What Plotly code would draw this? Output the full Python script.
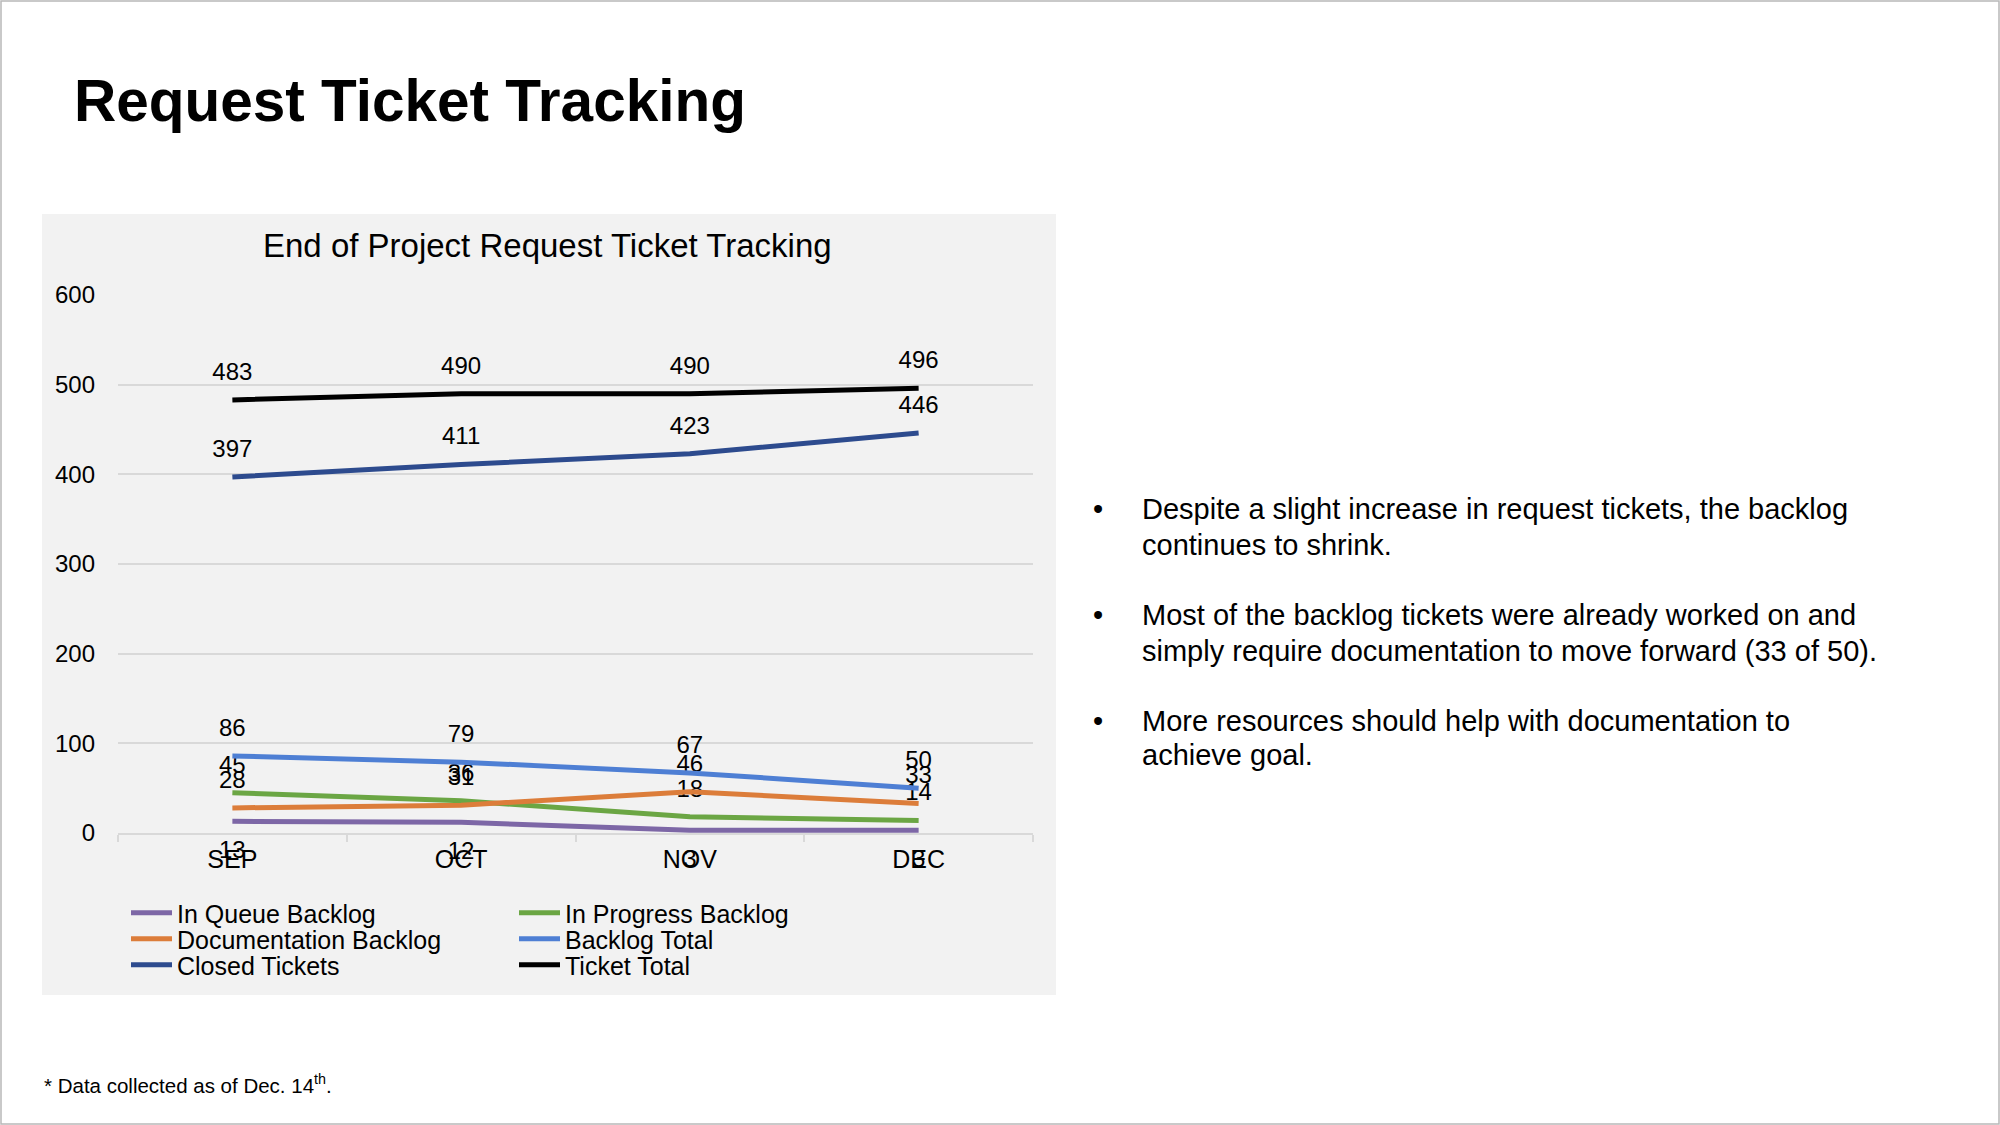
import plotly.graph_objects as go

# ---------------- data ----------------
months = ["SEP", "OCT", "NOV", "DEC"]
in_queue = [13, 12, 3, 3]
in_progress = [45, 36, 18, 14]
documentation = [28, 31, 46, 33]
backlog_total = [86, 79, 67, 50]
closed_tickets = [397, 411, 423, 446]
ticket_total = [483, 490, 490, 496]

y_ticks = [0, 100, 200, 300, 400, 500, 600]

page_title = "Request Ticket Tracking"
chart_title = "End of Project Request Ticket Tracking"
bullet_lines = [
    ["Despite a slight increase in request tickets, the backlog",
     "continues to shrink."],
    ["Most of the backlog tickets were already worked on and",
     "simply require documentation to move forward (33 of 50)."],
    ["More resources should help with documentation to",
     "achieve goal."],
]
footnote = "* Data collected as of Dec. 14<sup>th</sup>."

# ---------------- layout geometry (pixels) ----------------
W, H = 2000, 1125
PL, PR, PT, PB = 118, 1033, 295, 833   # plot area


def px(x):
    return (x - PL) / (PR - PL)


def py(y):
    return (PB - y) / (PB - PT)


FONT = "Liberation Sans, Arial, Helvetica, sans-serif"

series = [
    ("In Queue Backlog", in_queue, "#7d67a6", "bottom center", "legend"),
    ("In Progress Backlog", in_progress, "#6ba644", "top center", "legend"),
    ("Documentation Backlog", documentation, "#dc7d3a", "top center", "legend2"),
    ("Backlog Total", backlog_total, "#4e7fd4", "top center", "legend2"),
    ("Closed Tickets", closed_tickets, "#2d4b8e", "top center", "legend3"),
    ("Ticket Total", ticket_total, "#000000", "top center", "legend3"),
]

fig = go.Figure()
for name, vals, color, tpos, leg in series:
    gap = 29 if tpos.startswith("bottom") else 21
    fig.add_trace(go.Scatter(
        x=months, y=vals, name=name, mode="lines+markers+text",
        text=[str(v) for v in vals], textposition=tpos,
        textfont=dict(family=FONT, size=24, color="#000000"),
        line=dict(color=color, width=5),
        marker=dict(size=gap, color="rgba(0,0,0,0)",
                    line=dict(width=0, color="rgba(0,0,0,0)")),
        cliponaxis=False, legend=leg, hoverinfo="x+y+name",
    ))

legend_common = dict(
    orientation="h", xanchor="left", yanchor="middle",
    font=dict(family=FONT, size=25, color="#000000"),
    bgcolor="rgba(0,0,0,0)", itemwidth=41,
    entrywidth=332, entrywidthmode="pixels",
    itemclick=False, itemdoubleclick=False, tracegroupgap=0,
)

fig.update_layout(
    width=W, height=H,
    margin=dict(l=PL, r=W - PR, t=PT, b=H - PB, pad=0),
    paper_bgcolor="#ffffff",
    plot_bgcolor="rgba(0,0,0,0)",
    font=dict(family=FONT, color="#000000"),
    showlegend=True,
    legend=dict(x=px(126), y=py(913), **legend_common),
    legend2=dict(x=px(126), y=py(939), **legend_common),
    legend3=dict(x=px(126), y=py(965), **legend_common),
    xaxis=dict(
        type="category", categoryorder="array", categoryarray=months,
        range=[-0.5, 3.5], showgrid=False, zeroline=False,
        showline=True, linecolor="#d9d9d9", linewidth=1.5,
        ticks="outside", tickson="boundaries", ticklen=7,
        tickcolor="#d9d9d9", tickwidth=1.5,
        tickfont=dict(family=FONT, size=25, color="#000000"),
        ticklabelstandoff=3, fixedrange=True,
    ),
    yaxis=dict(
        range=[0, 600], tickvals=y_ticks, showgrid=True,
        gridcolor="#d9d9d9", gridwidth=1.5, zeroline=False,
        showline=False, ticks="",
        tickfont=dict(family=FONT, size=24, color="#000000"),
        ticklabelstandoff=22, fixedrange=True,
    ),
    shapes=[
        dict(type="rect", xref="paper", yref="paper",
             x0=px(42), x1=px(1056), y0=py(995), y1=py(214),
             fillcolor="#f2f2f2", line=dict(width=0), layer="below"),
        dict(type="rect", xref="paper", yref="paper",
             x0=px(1), x1=px(1999), y0=py(1124), y1=py(1),
             fillcolor="rgba(0,0,0,0)", line=dict(color="#b8b8b8", width=1.5),
             layer="above"),
    ],
)

annotations = [
    dict(text="<b>" + page_title + "</b>", x=px(72), y=py(100),
         xanchor="left", yanchor="middle",
         font=dict(family=FONT, size=58.5, color="#000000")),
    dict(text=chart_title, x=px(547), y=py(245),
         xanchor="center", yanchor="middle",
         font=dict(family=FONT, size=33, color="#000000")),
    dict(text=footnote, x=px(42), y=py(1084),
         xanchor="left", yanchor="middle",
         font=dict(family=FONT, size=20.5, color="#000000")),
]
line_ys = [[509, 545], [615, 651], [721, 755]]
for lines, ys in zip(bullet_lines, line_ys):
    annotations.append(dict(text="•", x=px(1091), y=py(ys[0]),
                            xanchor="left", yanchor="middle",
                            font=dict(family=FONT, size=29, color="#000000")))
    for txt, yy in zip(lines, ys):
        annotations.append(dict(text=txt, x=px(1140), y=py(yy),
                                xanchor="left", yanchor="middle", align="left",
                                font=dict(family=FONT, size=29, color="#000000")))
for a in annotations:
    a.update(xref="paper", yref="paper", showarrow=False)
fig.update_layout(annotations=annotations)

fig.write_html("out.html", config={"displayModeBar": False},
               post_script="document.body.style.margin='0px';")
